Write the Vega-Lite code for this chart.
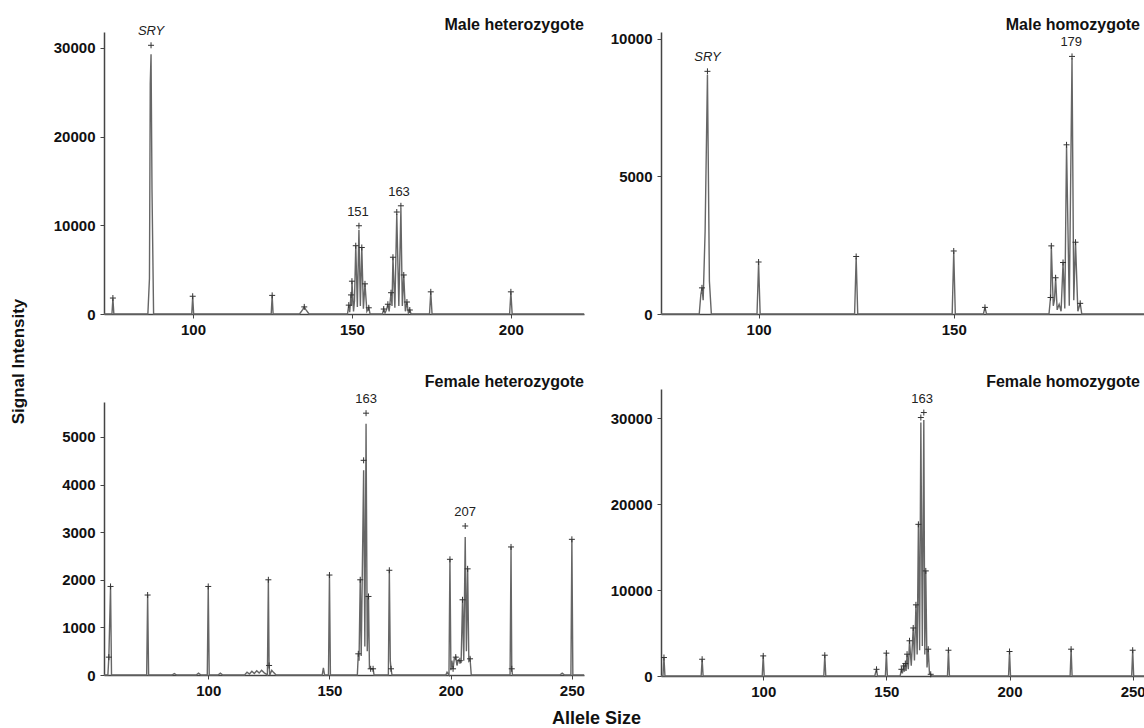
{
  "$schema": "https://vega.github.io/schema/vega-lite/v6.json",
  "background": "white",
  "padding": {"left": 9, "top": 16, "right": 0, "bottom": 0},
  "autosize": {"type": "pad"},
  "config": {
    "view": {"stroke": null},
    "font": "Liberation Sans",
    "axis": {
      "grid": false, "format": "d", "labelFontSize": 15, "labelFontWeight": "bold", "labelColor": "#111",
      "tickSize": 4, "tickColor": "#444", "domainColor": "#444", "domainWidth": 1.5, "labelOverlap": false,
      "labelFlush": false
    },
    "axisX": {"labelPadding": 4},
    "axisY": {"labelPadding": 5},
    "title": {"anchor": "end", "frame": "group", "fontSize": 16, "fontWeight": "bold", "baseline": "alphabetic", "color": "#111"}
  },
  "datasets": {
    "trace": [
      {"p":1,"x":72,"y":0},{"p":1,"x":74.5,"y":0},{"p":1,"x":74.8,"y":1750},{"p":1,"x":75.1,"y":0},
      {"p":1,"x":85.8,"y":0},{"p":1,"x":86.3,"y":4000},{"p":1,"x":86.55,"y":26000},{"p":1,"x":86.8,"y":29300},{"p":1,"x":87.1,"y":14000},{"p":1,"x":87.6,"y":0},
      {"p":1,"x":99.6,"y":0},{"p":1,"x":99.9,"y":1950},{"p":1,"x":100.2,"y":0},
      {"p":1,"x":124.6,"y":0},{"p":1,"x":124.9,"y":2050},{"p":1,"x":125.2,"y":0},
      {"p":1,"x":133.5,"y":0},{"p":1,"x":134.5,"y":500},{"p":1,"x":135,"y":800},{"p":1,"x":135.5,"y":500},{"p":1,"x":136.5,"y":0},
      {"p":1,"x":148.6,"y":0},{"p":1,"x":149.0,"y":1000},{"p":1,"x":149.3,"y":200},{"p":1,"x":149.7,"y":2150},{"p":1,"x":149.85,"y":900},{"p":1,"x":150.0,"y":3700},{"p":1,"x":150.5,"y":300},{"p":1,"x":150.8,"y":1500},{"p":1,"x":151.2,"y":7700},{"p":1,"x":151.7,"y":800},{"p":1,"x":152.2,"y":9500},{"p":1,"x":152.65,"y":900},{"p":1,"x":153.1,"y":7500},{"p":1,"x":153.6,"y":600},{"p":1,"x":154.1,"y":3400},{"p":1,"x":154.7,"y":300},{"p":1,"x":155.3,"y":700},{"p":1,"x":155.7,"y":0},
      {"p":1,"x":159.6,"y":0},{"p":1,"x":160.0,"y":560},{"p":1,"x":160.4,"y":100},{"p":1,"x":160.9,"y":500},{"p":1,"x":161.3,"y":1100},{"p":1,"x":161.7,"y":300},{"p":1,"x":162.3,"y":2400},{"p":1,"x":162.6,"y":900},{"p":1,"x":162.9,"y":6400},{"p":1,"x":163.5,"y":700},{"p":1,"x":164.1,"y":11300},{"p":1,"x":164.75,"y":900},{"p":1,"x":165.4,"y":11900},{"p":1,"x":165.85,"y":900},{"p":1,"x":166.3,"y":4400},{"p":1,"x":166.8,"y":300},{"p":1,"x":167.3,"y":1350},{"p":1,"x":167.75,"y":100},{"p":1,"x":168.2,"y":450},{"p":1,"x":168.6,"y":0},
      {"p":1,"x":174.4,"y":0},{"p":1,"x":174.8,"y":2450},{"p":1,"x":175.2,"y":0},
      {"p":1,"x":199.6,"y":0},{"p":1,"x":200,"y":2450},{"p":1,"x":200.4,"y":0},{"p":1,"x":223,"y":0},

      {"p":2,"x":75,"y":0},{"p":2,"x":84.8,"y":0},{"p":2,"x":85.2,"y":700},{"p":2,"x":85.5,"y":950},{"p":2,"x":85.8,"y":500},{"p":2,"x":86.3,"y":3000},{"p":2,"x":86.9,"y":8700},{"p":2,"x":87.4,"y":1200},{"p":2,"x":87.9,"y":0},
      {"p":2,"x":99.6,"y":0},{"p":2,"x":100,"y":1850},{"p":2,"x":100.4,"y":0},
      {"p":2,"x":124.6,"y":0},{"p":2,"x":125,"y":2050},{"p":2,"x":125.4,"y":0},
      {"p":2,"x":149.6,"y":0},{"p":2,"x":150,"y":2250},{"p":2,"x":150.4,"y":0},
      {"p":2,"x":157.6,"y":0},{"p":2,"x":158,"y":240},{"p":2,"x":158.4,"y":0},
      {"p":2,"x":174.4,"y":0},{"p":2,"x":174.8,"y":600},{"p":2,"x":175.0,"y":2450},{"p":2,"x":175.5,"y":300},{"p":2,"x":175.8,"y":500},{"p":2,"x":176.1,"y":1300},{"p":2,"x":176.5,"y":150},{"p":2,"x":177.0,"y":350},{"p":2,"x":177.5,"y":100},{"p":2,"x":178.0,"y":1850},{"p":2,"x":178.45,"y":200},{"p":2,"x":178.9,"y":6100},{"p":2,"x":179.6,"y":300},{"p":2,"x":180.3,"y":9300},{"p":2,"x":180.75,"y":500},{"p":2,"x":181.2,"y":2600},{"p":2,"x":181.8,"y":100},{"p":2,"x":182.4,"y":390},{"p":2,"x":182.8,"y":0},{"p":2,"x":199,"y":0},

      {"p":3,"x":57,"y":0},{"p":3,"x":58.6,"y":0},{"p":3,"x":59.0,"y":375},{"p":3,"x":59.7,"y":1860},{"p":3,"x":60.1,"y":0},
      {"p":3,"x":74.6,"y":0},{"p":3,"x":75,"y":1680},{"p":3,"x":75.4,"y":0},
      {"p":3,"x":85,"y":0},{"p":3,"x":86,"y":30},{"p":3,"x":87,"y":0},{"p":3,"x":95,"y":0},{"p":3,"x":96,"y":40},{"p":3,"x":97,"y":0},
      {"p":3,"x":99.6,"y":0},{"p":3,"x":100,"y":1860},{"p":3,"x":100.4,"y":0},
      {"p":3,"x":104,"y":0},{"p":3,"x":105,"y":40},{"p":3,"x":106,"y":0},
      {"p":3,"x":115,"y":0},{"p":3,"x":116,"y":60},{"p":3,"x":117,"y":20},{"p":3,"x":118,"y":80},{"p":3,"x":119,"y":30},{"p":3,"x":120,"y":90},{"p":3,"x":121,"y":40},{"p":3,"x":122,"y":100},{"p":3,"x":123,"y":50},
      {"p":3,"x":124.4,"y":0},{"p":3,"x":124.8,"y":2000},{"p":3,"x":125.1,"y":200},{"p":3,"x":125.4,"y":0},{"p":3,"x":126.2,"y":100},{"p":3,"x":127,"y":50},{"p":3,"x":128,"y":0},
      {"p":3,"x":147,"y":0},{"p":3,"x":147.5,"y":150},{"p":3,"x":148,"y":0},
      {"p":3,"x":149.6,"y":0},{"p":3,"x":150,"y":2100},{"p":3,"x":150.4,"y":0},
      {"p":3,"x":161.5,"y":0},{"p":3,"x":161.9,"y":445},{"p":3,"x":162.2,"y":300},{"p":3,"x":162.7,"y":2000},{"p":3,"x":163.1,"y":400},{"p":3,"x":164.1,"y":4300},{"p":3,"x":164.6,"y":600},{"p":3,"x":165.1,"y":5280},{"p":3,"x":165.6,"y":500},{"p":3,"x":166.1,"y":1650},{"p":3,"x":166.5,"y":150},{"p":3,"x":167,"y":130},{"p":3,"x":168,"y":130},{"p":3,"x":168.4,"y":0},
      {"p":3,"x":174.3,"y":0},{"p":3,"x":174.7,"y":2200},{"p":3,"x":175.1,"y":300},{"p":3,"x":175.4,"y":130},{"p":3,"x":175.8,"y":0},
      {"p":3,"x":198,"y":0},{"p":3,"x":198.5,"y":60},{"p":3,"x":199.3,"y":0},{"p":3,"x":199.7,"y":2430},{"p":3,"x":200.1,"y":100},{"p":3,"x":200.5,"y":300},{"p":3,"x":201,"y":130},{"p":3,"x":201.5,"y":350},{"p":3,"x":202.1,"y":375},{"p":3,"x":202.6,"y":200},{"p":3,"x":203.2,"y":320},{"p":3,"x":203.8,"y":300},{"p":3,"x":204.3,"y":250},{"p":3,"x":204.9,"y":1580},{"p":3,"x":205.4,"y":300},{"p":3,"x":206.0,"y":2900},{"p":3,"x":206.5,"y":500},{"p":3,"x":207,"y":2230},{"p":3,"x":207.5,"y":300},{"p":3,"x":208,"y":340},{"p":3,"x":208.5,"y":0},
      {"p":3,"x":224.5,"y":0},{"p":3,"x":224.9,"y":2690},{"p":3,"x":225.2,"y":130},{"p":3,"x":225.5,"y":0},
      {"p":3,"x":245,"y":0},{"p":3,"x":246,"y":40},{"p":3,"x":247,"y":0},
      {"p":3,"x":249.6,"y":0},{"p":3,"x":250,"y":2850},{"p":3,"x":250.4,"y":0},{"p":3,"x":255,"y":0},

      {"p":4,"x":58.5,"y":0},{"p":4,"x":59.3,"y":0},{"p":4,"x":59.7,"y":2150},{"p":4,"x":60.1,"y":0},
      {"p":4,"x":74.8,"y":0},{"p":4,"x":75.2,"y":1950},{"p":4,"x":75.6,"y":0},
      {"p":4,"x":99.6,"y":0},{"p":4,"x":100,"y":2340},{"p":4,"x":100.4,"y":0},
      {"p":4,"x":124.6,"y":0},{"p":4,"x":125,"y":2420},{"p":4,"x":125.4,"y":0},
      {"p":4,"x":145.3,"y":0},{"p":4,"x":145.7,"y":500},{"p":4,"x":146,"y":780},{"p":4,"x":146.4,"y":0},
      {"p":4,"x":149.6,"y":0},{"p":4,"x":150,"y":2660},{"p":4,"x":150.4,"y":0},
      {"p":4,"x":155.6,"y":0},{"p":4,"x":156.1,"y":780},{"p":4,"x":156.5,"y":300},{"p":4,"x":157,"y":1170},{"p":4,"x":157.3,"y":500},{"p":4,"x":157.7,"y":1450},{"p":4,"x":158,"y":600},{"p":4,"x":158.4,"y":2540},{"p":4,"x":158.9,"y":800},{"p":4,"x":159.4,"y":4100},{"p":4,"x":160.1,"y":1200},{"p":4,"x":160.9,"y":5590},{"p":4,"x":161.4,"y":1800},{"p":4,"x":162,"y":8280},{"p":4,"x":162.5,"y":2500},{"p":4,"x":163,"y":17650},{"p":4,"x":163.5,"y":3000},{"p":4,"x":164,"y":29500},{"p":4,"x":164.6,"y":3500},{"p":4,"x":165.2,"y":29800},{"p":4,"x":165.6,"y":2500},{"p":4,"x":166,"y":12230},{"p":4,"x":166.5,"y":1000},{"p":4,"x":167,"y":3120},{"p":4,"x":167.5,"y":300},{"p":4,"x":168,"y":200},{"p":4,"x":168.4,"y":0},
      {"p":4,"x":174.8,"y":0},{"p":4,"x":175.2,"y":3000},{"p":4,"x":175.6,"y":0},
      {"p":4,"x":199.6,"y":0},{"p":4,"x":200,"y":2850},{"p":4,"x":200.4,"y":0},
      {"p":4,"x":224.6,"y":0},{"p":4,"x":225,"y":3120},{"p":4,"x":225.4,"y":0},
      {"p":4,"x":249.6,"y":0},{"p":4,"x":250,"y":3000},{"p":4,"x":250.4,"y":0},{"p":4,"x":255,"y":0}
    ],
    "marks": [
      {"p":1,"x":74.8,"y":1800},{"p":1,"x":86.8,"y":30300},{"p":1,"x":99.9,"y":2000},{"p":1,"x":124.9,"y":2100},{"p":1,"x":135,"y":800},{"p":1,"x":149.0,"y":1000},{"p":1,"x":149.7,"y":2150},{"p":1,"x":150.0,"y":3700},{"p":1,"x":151.2,"y":7700},{"p":1,"x":152.2,"y":9950},{"p":1,"x":153.1,"y":7500},{"p":1,"x":154.1,"y":3400},{"p":1,"x":155.3,"y":700},{"p":1,"x":160.0,"y":560},{"p":1,"x":161.3,"y":1100},{"p":1,"x":162.3,"y":2400},{"p":1,"x":162.9,"y":6400},{"p":1,"x":164.1,"y":11500},{"p":1,"x":165.4,"y":12200},{"p":1,"x":166.3,"y":4400},{"p":1,"x":167.3,"y":1350},{"p":1,"x":168.2,"y":450},{"p":1,"x":174.8,"y":2500},{"p":1,"x":200,"y":2500},
      {"p":2,"x":85.5,"y":950},{"p":2,"x":86.9,"y":8820},{"p":2,"x":100,"y":1890},{"p":2,"x":125,"y":2090},{"p":2,"x":150,"y":2290},{"p":2,"x":158,"y":240},{"p":2,"x":174.8,"y":600},{"p":2,"x":175.0,"y":2476},{"p":2,"x":176.1,"y":1317},{"p":2,"x":178.0,"y":1872},{"p":2,"x":178.9,"y":6149},{"p":2,"x":180.3,"y":9362},{"p":2,"x":181.2,"y":2609},{"p":2,"x":182.4,"y":387},
      {"p":3,"x":59.0,"y":375},{"p":3,"x":59.7,"y":1860},{"p":3,"x":75,"y":1680},{"p":3,"x":100,"y":1860},{"p":3,"x":124.8,"y":2000},{"p":3,"x":125.1,"y":200},{"p":3,"x":150,"y":2100},{"p":3,"x":161.9,"y":445},{"p":3,"x":162.7,"y":2000},{"p":3,"x":164.1,"y":4510},{"p":3,"x":165.1,"y":5500},{"p":3,"x":166.1,"y":1650},{"p":3,"x":167,"y":130},{"p":3,"x":168,"y":130},{"p":3,"x":174.7,"y":2200},{"p":3,"x":175.4,"y":130},{"p":3,"x":199.7,"y":2430},{"p":3,"x":201,"y":130},{"p":3,"x":202.1,"y":375},{"p":3,"x":203.8,"y":300},{"p":3,"x":204.9,"y":1580},{"p":3,"x":206.0,"y":3130},{"p":3,"x":207,"y":2230},{"p":3,"x":208,"y":340},{"p":3,"x":224.9,"y":2690},{"p":3,"x":225.2,"y":130},{"p":3,"x":250,"y":2850},
      {"p":4,"x":59.7,"y":2150},{"p":4,"x":75.2,"y":1950},{"p":4,"x":100,"y":2340},{"p":4,"x":125,"y":2420},{"p":4,"x":146,"y":780},{"p":4,"x":150,"y":2660},{"p":4,"x":156.1,"y":780},{"p":4,"x":157,"y":1170},{"p":4,"x":157.7,"y":1450},{"p":4,"x":158.4,"y":2540},{"p":4,"x":159.4,"y":4100},{"p":4,"x":160.9,"y":5590},{"p":4,"x":162,"y":8280},{"p":4,"x":163,"y":17650},{"p":4,"x":164,"y":30080},{"p":4,"x":165.2,"y":30660},{"p":4,"x":166,"y":12230},{"p":4,"x":167,"y":3120},{"p":4,"x":168,"y":200},{"p":4,"x":175.2,"y":3000},{"p":4,"x":200,"y":2850},{"p":4,"x":225,"y":3120},{"p":4,"x":250,"y":3000}
    ],
    "labels": [
      {"p":1,"x":86.8,"y":30300,"t":"SRY","i":true},{"p":1,"x":151.9,"y":9950,"t":"151","i":false},{"p":1,"x":164.8,"y":12200,"t":"163","i":false},
      {"p":2,"x":86.9,"y":8820,"t":"SRY","i":true},{"p":2,"x":180.1,"y":9362,"t":"179","i":false},
      {"p":3,"x":165.1,"y":5500,"t":"163","i":false},{"p":3,"x":206.0,"y":3130,"t":"207","i":false},
      {"p":4,"x":164.5,"y":30660,"t":"163","i":false}
    ]
  },
  "hconcat": [
    {
      "vconcat": [
        {
          "width": 480, "height": 282,
          "title": {"text": "Male heterozygote", "offset": -8},
          "layer": [
            {"data": {"name": "trace"}, "transform": [{"filter": "datum.p == 1"}],
             "mark": {"type": "line", "color": "#666", "strokeWidth": 1.4},
             "encoding": {
               "x": {"field": "x", "type": "quantitative", "scale": {"domain": [72, 223], "nice": false, "zero": false}, "axis": {"values": [100, 150, 200], "title": null}},
               "y": {"field": "y", "type": "quantitative", "scale": {"domain": [0, 31800], "nice": false}, "axis": {"values": [0, 10000, 20000, 30000], "title": "Signal Intensity", "titleX": -86, "titleY": 329, "titleAngle": -90, "titleAlign": "center", "titleBaseline": "middle", "titleFontSize": 17, "titleFontWeight": "bold", "titleColor": "#111"}}
             }},
            {"data": {"name": "marks"}, "transform": [{"filter": "datum.p == 1"}],
             "mark": {"type": "point", "shape": "M-1,0L1,0M0,-1L0,1", "filled": false, "stroke": "#333", "strokeWidth": 1, "size": 36, "opacity": 1},
             "encoding": {"x": {"field": "x", "type": "quantitative"}, "y": {"field": "y", "type": "quantitative"}}},
            {"data": {"name": "labels"}, "transform": [{"filter": "datum.p == 1 && datum.i"}],
             "mark": {"type": "text", "dy": -14, "fontSize": 13, "fontStyle": "italic", "color": "#222"},
             "encoding": {"x": {"field": "x", "type": "quantitative"}, "y": {"field": "y", "type": "quantitative"}, "text": {"field": "t"}}},
            {"data": {"name": "labels"}, "transform": [{"filter": "datum.p == 1 && !datum.i"}],
             "mark": {"type": "text", "dy": -14, "fontSize": 13, "color": "#222"},
             "encoding": {"x": {"field": "x", "type": "quantitative"}, "y": {"field": "y", "type": "quantitative"}, "text": {"field": "t"}}}
          ]
        },
        {
          "width": 480, "height": 273,
          "title": {"text": "Female heterozygote", "offset": 3},
          "layer": [
            {"data": {"name": "trace"}, "transform": [{"filter": "datum.p == 3"}],
             "mark": {"type": "line", "color": "#666", "strokeWidth": 1.4},
             "encoding": {
               "x": {"field": "x", "type": "quantitative", "scale": {"domain": [57, 255], "nice": false, "zero": false}, "axis": {"values": [100, 150, 200, 250], "title": "Allele Size", "titleX": 492, "titleY": 43, "titleAlign": "center", "titleBaseline": "middle", "titleFontSize": 18, "titleFontWeight": "bold", "titleColor": "#111"}},
               "y": {"field": "y", "type": "quantitative", "scale": {"domain": [0, 5735], "nice": false}, "axis": {"values": [0, 1000, 2000, 3000, 4000, 5000], "title": null}}
             }},
            {"data": {"name": "marks"}, "transform": [{"filter": "datum.p == 3"}],
             "mark": {"type": "point", "shape": "M-1,0L1,0M0,-1L0,1", "filled": false, "stroke": "#333", "strokeWidth": 1, "size": 36, "opacity": 1},
             "encoding": {"x": {"field": "x", "type": "quantitative"}, "y": {"field": "y", "type": "quantitative"}}},
            {"data": {"name": "labels"}, "transform": [{"filter": "datum.p == 3"}],
             "mark": {"type": "text", "dy": -14, "fontSize": 13, "color": "#222"},
             "encoding": {"x": {"field": "x", "type": "quantitative"}, "y": {"field": "y", "type": "quantitative"}, "text": {"field": "t"}}}
          ]
        }
      ],
      "spacing": 88,
      "bounds": "flush"
    },
    {
      "vconcat": [
        {
          "width": 484, "height": 282,
          "title": {"text": "Male homozygote", "offset": -1, "dx": -5},
          "layer": [
            {"data": {"name": "trace"}, "transform": [{"filter": "datum.p == 2"}],
             "mark": {"type": "line", "color": "#666", "strokeWidth": 1.4},
             "encoding": {
               "x": {"field": "x", "type": "quantitative", "scale": {"domain": [75, 199], "nice": false, "zero": false}, "axis": {"values": [100, 150], "title": null}},
               "y": {"field": "y", "type": "quantitative", "scale": {"domain": [0, 10250], "nice": false}, "axis": {"values": [0, 5000, 10000], "title": null}}
             }},
            {"data": {"name": "marks"}, "transform": [{"filter": "datum.p == 2"}],
             "mark": {"type": "point", "shape": "M-1,0L1,0M0,-1L0,1", "filled": false, "stroke": "#333", "strokeWidth": 1, "size": 36, "opacity": 1},
             "encoding": {"x": {"field": "x", "type": "quantitative"}, "y": {"field": "y", "type": "quantitative"}}},
            {"data": {"name": "labels"}, "transform": [{"filter": "datum.p == 2 && datum.i"}],
             "mark": {"type": "text", "dy": -14, "fontSize": 13, "fontStyle": "italic", "color": "#222"},
             "encoding": {"x": {"field": "x", "type": "quantitative"}, "y": {"field": "y", "type": "quantitative"}, "text": {"field": "t"}}},
            {"data": {"name": "labels"}, "transform": [{"filter": "datum.p == 2 && !datum.i"}],
             "mark": {"type": "text", "dy": -14, "fontSize": 13, "color": "#222"},
             "encoding": {"x": {"field": "x", "type": "quantitative"}, "y": {"field": "y", "type": "quantitative"}, "text": {"field": "t"}}}
          ]
        },
        {
          "width": 484, "height": 287,
          "title": {"text": "Female homozygote", "offset": -1, "dx": -5},
          "layer": [
            {"data": {"name": "trace"}, "transform": [{"filter": "datum.p == 4"}],
             "mark": {"type": "line", "color": "#666", "strokeWidth": 1.4},
             "encoding": {
               "x": {"field": "x", "type": "quantitative", "scale": {"domain": [58.5, 255], "nice": false, "zero": false}, "axis": {"values": [100, 150, 200, 250], "title": null}},
               "y": {"field": "y", "type": "quantitative", "scale": {"domain": [0, 33400], "nice": false}, "axis": {"values": [0, 10000, 20000, 30000], "title": null}}
             }},
            {"data": {"name": "marks"}, "transform": [{"filter": "datum.p == 4"}],
             "mark": {"type": "point", "shape": "M-1,0L1,0M0,-1L0,1", "filled": false, "stroke": "#333", "strokeWidth": 1, "size": 36, "opacity": 1},
             "encoding": {"x": {"field": "x", "type": "quantitative"}, "y": {"field": "y", "type": "quantitative"}}},
            {"data": {"name": "labels"}, "transform": [{"filter": "datum.p == 4"}],
             "mark": {"type": "text", "dy": -14, "fontSize": 13, "color": "#222"},
             "encoding": {"x": {"field": "x", "type": "quantitative"}, "y": {"field": "y", "type": "quantitative"}, "text": {"field": "t"}}}
          ]
        }
      ],
      "spacing": 75,
      "bounds": "flush"
    }
  ],
  "spacing": -31,
  "bounds": "full"
}
